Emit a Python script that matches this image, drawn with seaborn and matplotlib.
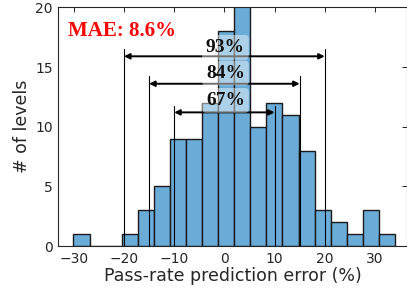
import numpy as np
import pandas as pd
import matplotlib
matplotlib.use("Agg")
import matplotlib.pyplot as plt
import seaborn as sns

# ---- data ----
bin_start = -30.08
bin_width = 3.204
counts = [1, 0, 0, 1, 3, 5, 9, 9, 12, 18, 22, 10, 12, 11, 8, 3, 2, 1, 3, 1]
interval_labels = ["93%", "84%", "67%"]
interval_lo = [-20, -15, -10]
interval_hi = [20, 15, 10]
interval_line_top = [16.5, 14.25, 11.7]
interval_arrow_y = [15.9, 13.6, 11.2]
interval_text_y = [16.65, 14.5, 12.2]
mae_text = "MAE: 8.6%"
x_ticks = [-30, -20, -10, 0, 10, 20, 30]
y_ticks = [0, 5, 10, 15, 20]

edges = bin_start + bin_width * np.arange(len(counts) + 1)
centers = (edges[:-1] + edges[1:]) / 2
df = pd.DataFrame({"err": centers, "n": np.asarray(counts, dtype=float)})

sns.set_style("white")
plt.rcParams["font.family"] = ["DejaVu Sans"]

fig = plt.figure(figsize=(4.07, 2.95), dpi=100)
ax = fig.add_axes([0.1437, 0.166, 0.8563, 0.809])

sns.histplot(data=df, x="err", weights="n", bins=list(edges), ax=ax,
             color="#6AABD7", alpha=1.0, edgecolor="#1a1a1a", linewidth=1.0)

ax.set_xlim(-33.07, 36.4)
ax.set_ylim(0, 20)
ax.set_xticks(x_ticks)
ax.set_yticks(y_ticks)
ax.tick_params(direction="in", length=3.5, width=0.7, top=True, right=True,
               labelsize=10, colors="#262626", pad=4)
for s in ax.spines.values():
    s.set_color("#262626")
    s.set_linewidth(0.8)

ax.set_xlabel("Pass-rate prediction error (%)", fontsize=12.5, color="#262626", labelpad=1)
ax.set_ylabel("# of levels", fontsize=12.5, color="#262626", labelpad=3)

serif = ["Liberation Serif", "DejaVu Serif"]
for lab, lo, hi, top, ay, ty in zip(interval_labels, interval_lo, interval_hi,
                                     interval_line_top, interval_arrow_y, interval_text_y):
    ax.plot([lo, lo], [0, top], color="black", lw=0.8)
    ax.plot([hi, hi], [0, top], color="black", lw=0.8)
    ax.annotate("", xy=(lo, ay), xytext=(hi, ay),
                arrowprops=dict(arrowstyle="<|-|>", color="black", lw=1.4,
                                mutation_scale=8, shrinkA=0, shrinkB=0))
    ax.text(0.2, ty, lab, ha="center", va="center", fontsize=14, fontweight="bold",
            family=serif, color="#111111",
            bbox=dict(boxstyle="round,pad=0.2", facecolor="white", edgecolor="none", alpha=0.45))

ax.text(-31.2, 18.0, mae_text, ha="left", va="center", fontsize=15, fontweight="bold",
        family=serif, color="#FF0000")

fig.savefig("out.png", dpi=100)
